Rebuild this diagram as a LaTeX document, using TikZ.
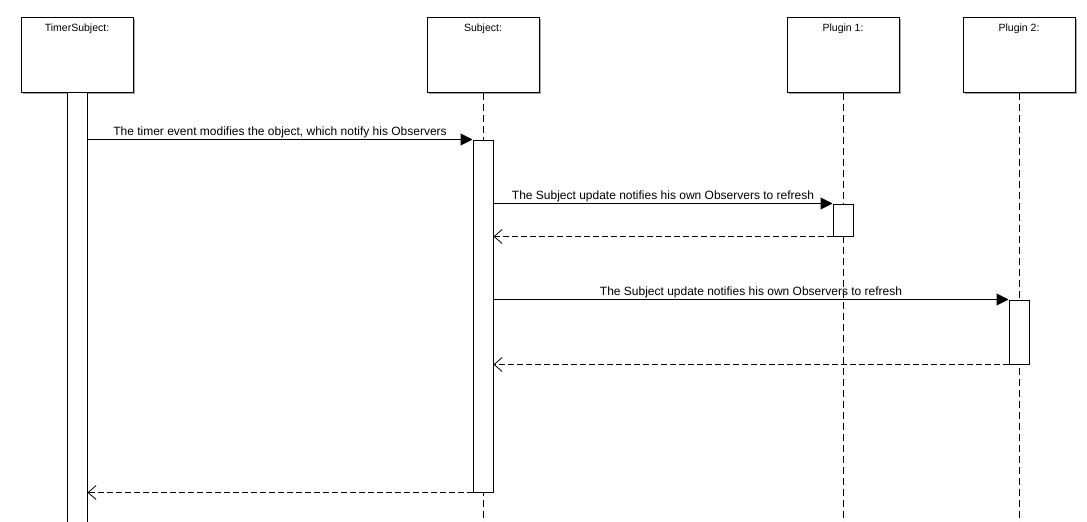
\documentclass[tikz,border=0pt]{standalone}
\usepackage{fontspec}
\setmainfont{Liberation Sans}
\usetikzlibrary{arrows.meta,shadows}
\begin{document}
\begin{tikzpicture}[x=1pt,y=-1pt,line width=1pt,
  obj/.style={draw, fill=white, minimum width=112pt, minimum height=75pt, inner sep=0pt,
    drop shadow={shadow xshift=2pt, shadow yshift=-2pt, fill=black!35, opacity=1}},
  objname/.style={font=\fontsize{10.5}{12}\selectfont, anchor=north, inner sep=0pt, yshift=-7pt},
  act/.style={draw, fill=white, minimum width=20pt, inner sep=0pt},
  life/.style={dash pattern=on 7pt off 4pt},
  call/.style={-{Triangle[length=12pt,width=12pt]}},
  reply/.style={dash pattern=on 6pt off 3pt, -{Straight Barb[length=8pt,width=14pt,line width=0.8pt]}},
  lbl/.style={font=\fontsize{12}{14}\selectfont, above, inner sep=1.5pt}]
\useasboundingbox (0,0) rectangle (1087,522);

% participants
\node[obj] (ts) at (77,54.5) {};
\node[objname] at (ts.north) {TimerSubject:};
\node[obj] (subj) at (483,54.5) {};
\node[objname] at (subj.north) {Subject:};
\node[obj] (p1) at (843,54.5) {};
\node[objname] at (p1.north) {Plugin 1:};
\node[obj] (p2) at (1019,54.5) {};
\node[objname] at (p2.north) {Plugin 2:};

% lifelines
\coordinate (subjEnd) at (483,524);
\coordinate (p1End) at (843,524);
\coordinate (p2End) at (1019,524);
\draw[life] (subj.south) -- (subjEnd);
\draw[life] (p1.south) -- (p1End);
\draw[life] (p2.south) -- (p2End);

% activation bars
\node[act, minimum height=436pt] (tsact) at (77,310) {};
\node[act, minimum height=352pt] (sact) at (483,316) {};
\node[act, minimum height=32pt] (p1act) at (843,220) {};
\node[act, minimum height=64pt] (p2act) at (1019,332) {};

% messages
\draw[call] (tsact.east |- sact.north west) -- node[lbl] {The timer event modifies the object, which notify his Observers} (sact.north west);
\draw[call] (sact.east |- p1act.north west) -- node[lbl] {The Subject update notifies his own Observers to refresh} (p1act.north west);
\draw[reply] (p1act.south west) -- (sact.east |- p1act.south west);
\draw[call] (sact.east |- p2act.north west) -- node[lbl] {The Subject update notifies his own Observers to refresh} (p2act.north west);
\draw[reply] (p2act.south west) -- (sact.east |- p2act.south west);
\draw[reply] (sact.south west) -- (tsact.east |- sact.south west);
\end{tikzpicture}
\end{document}
